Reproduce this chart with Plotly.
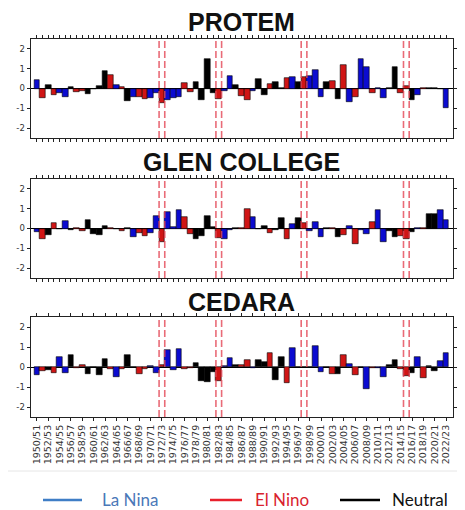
import plotly.graph_objects as go

seasons = ["1950/51","1951/52","1952/53","1953/54","1954/55","1955/56","1956/57","1957/58","1958/59","1959/60",
           "1960/61","1961/62","1962/63","1963/64","1964/65","1965/66","1966/67","1967/68","1968/69","1969/70",
           "1970/71","1971/72","1972/73","1973/74","1974/75","1975/76","1976/77","1977/78","1978/79","1979/80",
           "1980/81","1981/82","1982/83","1983/84","1984/85","1985/86","1986/87","1987/88","1988/89","1989/90",
           "1990/91","1991/92","1992/93","1993/94","1994/95","1995/96","1996/97","1997/98","1998/99","1999/00",
           "2000/01","2001/02","2002/03","2003/04","2004/05","2005/06","2006/07","2007/08","2008/09","2009/10",
           "2010/11","2011/12","2012/13","2013/14","2014/15","2015/16","2016/17","2017/18","2018/19","2019/20",
           "2020/21","2021/22","2022/23"]

# L = La Nina, E = El Nino, N = Neutral
phase = ["L","E","N","E","L","L","N","E","E","N",
         "N","N","N","E","L","E","N","L","E","E",
         "L","L","E","L","L","L","E","E","N","N",
         "N","N","E","L","L","N","E","E","L","N",
         "N","E","N","N","E","L","N","E","L","L",
         "L","N","E","N","E","L","E","L","L","E",
         "L","L","N","N","E","E","N","L","E","N",
         "N","L","L"]

protem = [0.45,-0.5,0.2,-0.32,-0.25,-0.42,0.1,-0.2,-0.15,-0.3,
          -0.05,0.12,0.9,0.7,0.2,0.1,-0.65,-0.45,-0.45,-0.55,
          -0.5,-0.25,-0.75,-0.6,-0.5,-0.45,0.3,-0.2,0.35,-0.6,
          1.5,-0.25,-0.55,-0.15,0.65,0.2,-0.4,-0.6,-0.15,0.5,
          -0.35,0.25,0.35,0.05,0.55,0.6,0.35,0.6,0.65,0.95,
          -0.45,0.35,0.4,-0.55,1.2,-0.7,-0.45,1.5,1.1,-0.25,
          0.02,-0.5,0.05,1.1,-0.25,0.15,-0.6,-0.35,0.03,0.02,
          0.05,-0.03,-1.0]

glen_college = [-0.2,-0.55,-0.35,0.3,-0.05,0.4,-0.1,0.02,-0.15,0.45,
                -0.3,-0.35,0.15,0.05,-0.05,-0.15,0.05,-0.45,-0.25,-0.4,
                -0.25,0.65,-0.7,0.85,0.1,0.95,0.6,-0.3,-0.55,-0.4,
                0.65,0.1,-0.5,-0.55,-0.1,0.02,0.02,1.0,0.6,-0.05,
                0.15,-0.25,-0.1,0.55,-0.55,0.25,0.55,0.3,-0.15,0.35,
                -0.45,0.05,0.05,-0.45,-0.35,0.15,-0.8,-0.1,-0.3,0.35,
                0.95,-0.7,-0.15,-0.45,-0.4,-0.55,-0.2,0.05,0.02,0.75,
                0.75,0.95,0.45]

cedara = [-0.4,-0.2,-0.15,-0.3,0.5,-0.3,0.6,-0.05,0.1,-0.35,
          0.02,-0.4,0.4,-0.1,-0.5,-0.1,0.6,0.02,-0.35,-0.1,
          0.05,-0.3,0.1,0.85,-0.15,0.9,-0.1,-0.05,0.2,-0.7,
          -0.75,-0.25,-0.7,0.05,0.45,0.1,0.1,0.35,-0.05,0.35,
          0.25,0.7,-0.65,0.5,-0.8,0.95,0.02,-0.02,0.0,1.05,
          -0.25,0.0,-0.35,-0.35,0.6,0.15,-0.4,0.0,-1.1,-0.05,
          -0.05,-0.5,0.1,0.35,-0.1,-0.45,-0.3,0.5,-0.55,0.05,
          -0.2,0.3,0.7]

titles = ["PROTEM", "GLEN COLLEGE", "CEDARA"]
series = [protem, glen_college, cedara]
strong_el_nino = ["1972/73", "1982/83", "1997/98", "2015/16"]
y_ticks = [-2, -1, 0, 1, 2]
legend_names = ["La Nina", "El Nino", "Neutral"]

bar_colors = {"L": "#0b0bd0", "E": "#d01515", "N": "#000000"}
legend_line_colors = ["#3f7ec6", "#e8202c", "#000000"]
legend_text_colors = ["#4a78b8", "#d9232e", "#111111"]

# page body adds an 8px offset; the figure is sized to fill the rest of the window
OFF = 8
W, H = 465 - OFF, 510 - OFF
def py(p):
    return 1 - (p - OFF) / H
def px(p):
    return (p - OFF) / W

panel_px = [(39, 138), (179, 278), (317, 417)]
title_px = [22, 162, 302]
plot_left, plot_right = 30.5, 452.5

fig = go.Figure()
shapes = []
annotations = []

for k in range(3):
    xa = "x" if k == 0 else f"x{k+1}"
    ya = "y" if k == 0 else f"y{k+1}"
    fig.add_trace(go.Bar(
        x=seasons, y=series[k], xaxis=xa, yaxis=ya,
        marker=dict(color=[bar_colors[p] for p in phase],
                    line=dict(color="#000000", width=0.6)),
        width=1.0, showlegend=False, hoverinfo="x+y"))

    top, bot = panel_px[k]
    xkey = "xaxis" if k == 0 else f"xaxis{k+1}"
    ykey = "yaxis" if k == 0 else f"yaxis{k+1}"
    if k < 2:
        xt = dict(tickmode="array", tickvals=seasons, showticklabels=False)
    else:
        xt = dict(tickmode="array", tickvals=seasons[::2], ticktext=seasons[::2],
                  showticklabels=True, tickangle=-90,
                  tickfont=dict(family="DejaVu Sans", size=9.5, color="#333333"))
    fig.layout[xkey] = dict(
        domain=[px(plot_left), px(plot_right)], anchor=ya,
        type="category", range=[-1.12, 72 + 1.12],
        showline=True, linecolor="#222222", linewidth=1, mirror="ticks",
        ticks="outside", ticklen=3, tickwidth=1, tickcolor="#222222",
        showgrid=False, zeroline=False, automargin=False, fixedrange=True, **xt)
    fig.layout[ykey] = dict(
        domain=[py(bot), py(top)], anchor=xa, range=[-2.5, 2.5],
        tickmode="array", tickvals=y_ticks, ticktext=[str(v) for v in y_ticks],
        tickfont=dict(family="DejaVu Sans", size=8.5, color="#333333"),
        showline=True, linecolor="#222222", linewidth=1, mirror="ticks",
        ticks="outside", ticklen=3, tickwidth=1, tickcolor="#222222",
        showgrid=False, zeroline=True, zerolinecolor="#000000", zerolinewidth=1,
        automargin=False, fixedrange=True)

    for s in strong_el_nino:
        idx = seasons.index(s)
        for xv in (idx - 0.5, idx + 0.5):
            shapes.append(dict(type="line", xref=xa, yref=f"{ya} domain",
                               x0=xv, x1=xv, y0=0, y1=1,
                               line=dict(color="rgba(228,70,85,0.8)", width=1.6, dash="7px,3px")))

    annotations.append(dict(text=f"<b>{titles[k]}</b>", xref="paper", yref="paper",
                            x=px((plot_left + plot_right) / 2), y=py(title_px[k]),
                            xanchor="center", yanchor="middle", showarrow=False,
                            font=dict(family="Liberation Sans", size=25, color="#111111")))

# separator line
shapes.append(dict(type="line", xref="paper", yref="paper", x0=px(8), x1=1,
                   y0=py(471), y1=py(471), line=dict(color="#e6e6e6", width=1)))

# custom legend
leg_lines = [(43, 82), (210, 242), (340, 380)]
leg_text_x = [100, 253, 390]
for i, name in enumerate(legend_names):
    x0, x1 = leg_lines[i]
    shapes.append(dict(type="line", xref="paper", yref="paper", x0=px(x0), x1=px(x1),
                       y0=py(500), y1=py(500),
                       line=dict(color=legend_line_colors[i], width=2.5)))
    annotations.append(dict(text=name, xref="paper", yref="paper",
                            x=px(leg_text_x[i]), y=py(499), xanchor="left", yanchor="middle",
                            showarrow=False,
                            font=dict(family="Lato", size=17, color=legend_text_colors[i])))

fig.update_layout(width=W, height=H, margin=dict(l=0, r=0, t=0, b=0),
                  paper_bgcolor="white", plot_bgcolor="white",
                  bargap=0, shapes=shapes, annotations=annotations, showlegend=False)

fig.write_html("out.html")
